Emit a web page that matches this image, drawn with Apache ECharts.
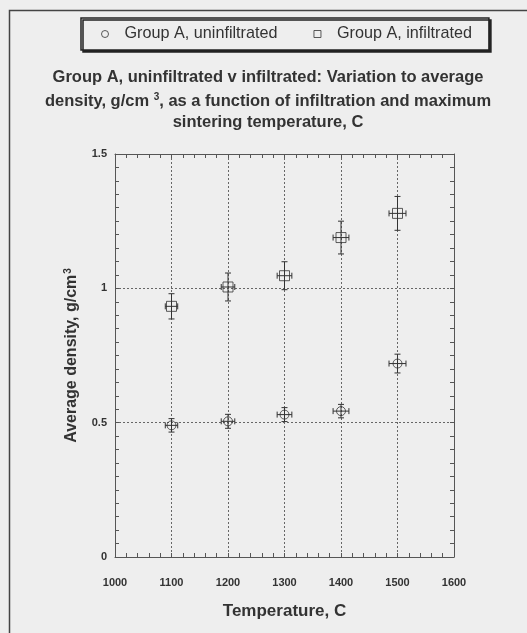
<!DOCTYPE html>
<html>
<head>
<meta charset="utf-8">
<script src="https://cdn.jsdelivr.net/npm/echarts@6/dist/echarts.min.js"></script>
<style>
  html, body { margin: 0; padding: 0; background: #eeeeee; }
  #chart { width: 527px; height: 633px; }
</style>
</head>
<body>
<div id="chart"></div>
<script>
// Sintering temperature (C) and horizontal uncertainty
var temperatures = [1100, 1200, 1300, 1400, 1500];
var temperatureErr = [11, 12, 13, 14, 15];

// Average density, g/cm3, with vertical uncertainty
var uninfiltrated = [0.49, 0.505, 0.53, 0.543, 0.72];
var uninfiltratedErr = [0.025, 0.026, 0.026, 0.025, 0.035];
var infiltrated = [0.933, 1.005, 1.047, 1.189, 1.279];
var infiltratedErr = [0.047, 0.052, 0.052, 0.061, 0.063];

var seriesNames = ['Group A, uninfiltrated', 'Group A, infiltrated'];
var xTicks = { min: 1000, max: 1600, interval: 100 };
var yTicks = { min: 0, max: 1.5, interval: 0.5 };

var ink = '#333333';
var font = 'Liberation Sans, Arial, sans-serif';

function pointRows(values, errs) {
  return temperatures.map(function (t, i) {
    return [t, values[i], temperatureErr[i], errs[i]];
  });
}

function errorBars(params, api) {
  var x = api.value(0), y = api.value(1), ex = api.value(2), ey = api.value(3);
  var left = api.coord([x - ex, y]), right = api.coord([x + ex, y]);
  var top = api.coord([x, y + ey]), bottom = api.coord([x, y - ey]);
  var cap = 3;
  var style = { stroke: ink, lineWidth: 1 };
  return {
    type: 'group',
    children: [
      { type: 'line', shape: { x1: left[0], y1: left[1], x2: right[0], y2: right[1] }, style: style },
      { type: 'line', shape: { x1: left[0], y1: left[1] - cap, x2: left[0], y2: left[1] + cap }, style: style },
      { type: 'line', shape: { x1: right[0], y1: right[1] - cap, x2: right[0], y2: right[1] + cap }, style: style },
      { type: 'line', shape: { x1: top[0], y1: top[1], x2: bottom[0], y2: bottom[1] }, style: style },
      { type: 'line', shape: { x1: top[0] - cap, y1: top[1], x2: top[0] + cap, y2: top[1] }, style: style },
      { type: 'line', shape: { x1: bottom[0] - cap, y1: bottom[1], x2: bottom[0] + cap, y2: bottom[1] }, style: style }
    ]
  };
}

function xAxisCfg(pos, labels) {
  return {
    type: 'value', position: pos, min: xTicks.min, max: xTicks.max, interval: xTicks.interval,
    axisLine: { show: true, onZero: false, lineStyle: { color: '#555', width: 1 } },
    axisTick: { show: true, inside: true, length: 4, lineStyle: { color: '#555' } },
    minorTick: { show: true, splitNumber: 5, length: 4, lineStyle: { color: '#555' } },
    splitLine: { show: labels, lineStyle: { color: '#666', type: [2, 2], width: 1 } },
    axisLabel: { show: labels, margin: 20, color: ink, fontWeight: 'bold', fontSize: 11, fontFamily: font,
      formatter: function (v) { return String(v); } },
    name: labels ? 'Temperature, C' : '',
    nameLocation: 'middle', nameGap: 46,
    nameTextStyle: { color: ink, fontWeight: 'bold', fontSize: 17, fontFamily: font }
  };
}

function yAxisCfg(pos, labels) {
  return {
    type: 'value', position: pos, min: yTicks.min, max: yTicks.max, interval: yTicks.interval,
    axisLine: { show: true, onZero: false, lineStyle: { color: '#555', width: 1 } },
    axisTick: { show: true, inside: true, length: 4, lineStyle: { color: '#555' } },
    minorTick: { show: true, splitNumber: 10, length: 4, lineStyle: { color: '#555' } },
    splitLine: { show: labels, lineStyle: { color: '#666', type: [2, 2], width: 1 } },
    axisLabel: { show: labels, margin: 8, color: ink, fontWeight: 'bold', fontSize: 11, fontFamily: font },
    name: labels ? '{b|Average density, g/cm}{s|3}' : '',
    nameLocation: 'middle', nameGap: 34, nameRotate: 90,
    nameTextStyle: {
      color: ink, fontFamily: font,
      rich: {
        b: { fontWeight: 'bold', fontSize: 16, color: ink, fontFamily: font },
        s: { fontWeight: 'bold', fontSize: 10, color: ink, fontFamily: font, verticalAlign: 'top', padding: [0, 0, 8, 1] }
      }
    }
  };
}

var chart = echarts.init(document.getElementById('chart'));
chart.setOption({
  backgroundColor: '#eeeeee',
  animation: false,
  graphic: [{
    type: 'rect', left: 7, top: 8, shape: { width: 600, height: 700 },
    style: { fill: 'none', stroke: '#444', lineWidth: 1.5 }, z: -1
  }],
  title: [
    { text: 'Group A, uninfiltrated v infiltrated: Variation to average', left: 263, top: 64, textAlign: 'center',
      textStyle: { fontWeight: 'bold', fontSize: 16.5, color: ink, fontFamily: font } },
    { text: '{b|density, g/cm }{s|3}{b|, as a function of infiltration and maximum}', left: 263, top: 87, textAlign: 'center',
      textStyle: { fontFamily: font, rich: {
        b: { fontWeight: 'bold', fontSize: 16.5, color: ink, fontFamily: font },
        s: { fontWeight: 'bold', fontSize: 10, color: ink, fontFamily: font, verticalAlign: 'top', padding: [0, 0, 9, 0] }
      } } },
    { text: 'sintering temperature, C', left: 263, top: 109, textAlign: 'center',
      textStyle: { fontWeight: 'bold', fontSize: 16.5, color: ink, fontFamily: font } }
  ],
  legend: {
    left: 81, top: 18, orient: 'horizontal',
    padding: [8, 17, 8, 20], itemGap: 36, itemWidth: 7, itemHeight: 7,
    backgroundColor: '#eeeeee', borderColor: '#222', borderWidth: 1.5,
    shadowColor: '#222', shadowBlur: 0, shadowOffsetX: 2, shadowOffsetY: 2,
    textStyle: { fontSize: 16.2, color: ink, fontFamily: font, padding: [0, 0, 0, 11] },
    data: [
      { name: seriesNames[0], icon: 'circle', itemStyle: { color: 'transparent', borderColor: ink, borderWidth: 1 } },
      { name: seriesNames[1], icon: 'rect', itemStyle: { color: 'transparent', borderColor: ink, borderWidth: 1 } }
    ]
  },
  grid: { left: 115, top: 154, right: 73, bottom: 76, containLabel: false },
  xAxis: [xAxisCfg('bottom', true), xAxisCfg('top', false)],
  yAxis: [yAxisCfg('left', true), yAxisCfg('right', false)],
  series: [
    { name: seriesNames[0], type: 'scatter', symbol: 'circle', symbolSize: 9,
      itemStyle: { color: 'transparent', borderColor: ink, borderWidth: 1 },
      data: pointRows(uninfiltrated, uninfiltratedErr), z: 3 },
    { name: seriesNames[1], type: 'scatter', symbol: 'rect', symbolSize: 10,
      itemStyle: { color: 'transparent', borderColor: ink, borderWidth: 1 },
      data: pointRows(infiltrated, infiltratedErr), z: 3 },
    { name: seriesNames[0] + ' error', type: 'custom', renderItem: errorBars,
      data: pointRows(uninfiltrated, uninfiltratedErr), z: 2 },
    { name: seriesNames[1] + ' error', type: 'custom', renderItem: errorBars,
      data: pointRows(infiltrated, infiltratedErr), z: 2 }
  ]
});
</script>
</body>
</html>
